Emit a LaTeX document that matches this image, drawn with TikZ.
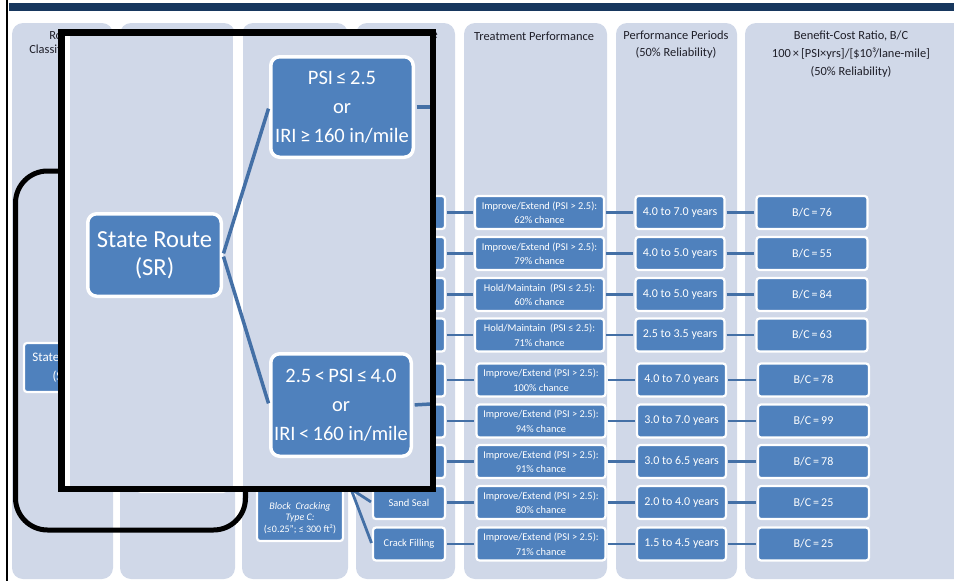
\documentclass[tikz,border=0pt]{standalone}
\usepackage{fontspec}
\setmainfont{Carlito}
\definecolor{panelc}{RGB}{208,216,232}
\definecolor{boxc}{RGB}{79,129,189}
\definecolor{linec}{RGB}{68,112,166}
\definecolor{navy}{RGB}{23,55,94}
\definecolor{headc}{RGB}{30,30,40}
\newcommand\txtIE{Improve/Extend (PSI > 2.5):}
\newcommand\txtHM{Hold/Maintain\ \ (PSI ≤ 2.5):}
\begin{document}
\begin{tikzpicture}[x=1pt,y=-1pt,
  panel/.style={fill=panelc, rounded corners=11pt},
  cell/.style={rectangle, rounded corners=3pt, fill=boxc, draw=white, line width=2.2pt,
    text=white, align=center, inner sep=0pt, minimum height=33pt},
  tcell/.style={cell, minimum width=129pt, font=\fontsize{10.4}{14.5}\selectfont},
  pcell/.style={cell, minimum width=89pt, font=\fontsize{12}{14}\selectfont},
  bcell/.style={cell, minimum width=111pt, font=\fontsize{12}{14}\selectfont},
  dcell/.style={cell, minimum width=72pt, font=\fontsize{10.5}{13}\selectfont},
  link/.style={draw=linec, line width=2.8pt, shorten <=1.1pt, shorten >=1.1pt},
  head/.style={text=headc, align=center, inner sep=0pt},
  big/.style={rectangle, rounded corners=9pt, fill=boxc, draw=white, line width=3.5pt,
    text=white, align=center, inner sep=0pt},
  blink/.style={draw=linec, line width=3.5pt, shorten <=1.7pt, shorten >=1.7pt},
]
\useasboundingbox (0,0) rectangle (954,581);
\clip (0,0) rectangle (954,581);

% page rule and title bar
\fill[navy] (9,3) rectangle (960,11);
\draw[black, line width=2.4pt] (7.2,-2) -- (7.2,590);

% column panels
\fill[panel] (12,23) rectangle (113,579);
\fill[panel] (120,23) rectangle (235,579);
\fill[panel] (242,23) rectangle (348,579);
\fill[panel] (356,23) rectangle (455,579);
\fill[panel] (464,23) rectangle (607,579);
\fill[panel] (616,23) rectangle (737,579);
\fill[panel] (745,23) rectangle (980,579);

% column headings
\node[head, font=\fontsize{12.4}{14}\selectfont] (h1) at (62,42) {Road\\Classification};
\node[head, font=\fontsize{12.4}{14}\selectfont, anchor=east] (h4) at (438,36) {Treatment Type};
\node[head, font=\fontsize{12.4}{14}\selectfont] (h5) at (534,36) {Treatment Performance};
\node[head, font=\fontsize{12.4}{17}\selectfont] (h6) at (676,44.5) {Performance Periods\\(50\% Reliability)};
\node[head, font=\fontsize{12.4}{18}\selectfont] (h7) at (851,54)
  {Benefit-Cost Ratio, B/C\\100\,×\,[PSI×yrs]/[\$10³/lane-mile]\\(50\% Reliability)};

% road class and condition boxes
\node[cell, minimum width=78pt, minimum height=49pt, font=\fontsize{13}{19}\selectfont]
  (sr) at (63,367.5) {State Route\\(SR)};
\node[cell, minimum width=88pt, minimum height=60pt] (cond) at (182,462) {};

% distress box
\node[cell, minimum width=86pt, minimum height=108pt] (blk) at (300,487) {};
\node[text=white, align=center, inner sep=0pt, font=\fontsize{10}{11.5}\selectfont]
  (blktxt) at (300,518) {\textit{Block\ \ Cracking}\\\textit{Type C:}\\(≤0.25"; ≤ 300 ft²)};

% treatment rows
\foreach \i/\y/\dx/\dt/\tr/\pct/\yr/\bcv in {
  1/212.5/0/{}/\txtIE/62/{4.0 to 7.0}/76,
  2/253.5/0/{}/\txtIE/79/{4.0 to 5.0}/55,
  3/294.5/0/{}/\txtHM/60/{4.0 to 5.0}/84,
  4/335/0/{}/\txtHM/71/{2.5 to 3.5}/63,
  5/380/1.5/{}/\txtIE/100/{4.0 to 7.0}/78,
  6/421/1.5/{}/\txtIE/94/{3.0 to 7.0}/99,
  7/461.5/1.5/{}/\txtIE/91/{3.0 to 6.5}/78,
  8/502.5/1.5/{Sand Seal}/\txtIE/80/{2.0 to 4.0}/25,
  9/544/1.5/{Crack Filling}/\txtIE/71/{1.5 to 4.5}/25}{
  \node[dcell] (d\i) at (409,\y) {\dt};
  \node[tcell] (t\i) at (539.5+\dx,\y) {\tr\\\pct\% chance};
  \node[pcell] (p\i) at (680+\dx,\y) {\yr\ years};
  \node[bcell] (b\i) at (812+\dx,\y) {B/C\,=\,\bcv};
  \draw[link] (d\i.east) -- (t\i.west);
  \draw[link] (t\i.east) -- (p\i.west);
  \draw[link] (p\i.east) -- (b\i.west);
}

% fan from the distress box to its treatments
\coordinate (fork) at (351,489);
\draw[link, shorten <=0pt] (fork) -- (d8.west);
\draw[link, shorten <=0pt] (fork) -- (d9.west);

% rounded call-out frame
\draw[black, line width=5pt, rounded corners=32pt] (15.5,171) rectangle (245.5,530);

% enlarged detail window
\fill[white] (61.25,32.25) rectangle (432.75,488.75);
\fill[panelc] (70,35) rectangle (233,486);
\fill[panelc] (243,35) rectangle (430,486);
\node[big, minimum width=133.5pt, minimum height=82.5pt, font=\fontsize{24.5}{28}\selectfont]
  (zsr) at (154.5,255) {State Route\\(SR)};
\node[big, minimum width=142.5pt, minimum height=100.5pt, font=\fontsize{20.5}{29}\selectfont]
  (zhi) at (342,107) {PSI\,≤\,2.5\\or\\IRI\,≥\,160 in/mile};
\node[big, minimum width=140.5pt, minimum height=102.5pt, font=\fontsize{20.5}{29}\selectfont]
  (zlo) at (341,405) {2.5\,<\,PSI\,≤\,4.0\\or\\IRI\,<\,160 in/mile};
\draw[blink] (zsr.east) -- (zhi.west);
\draw[blink] (zsr.east) -- (zlo.west);
\coordinate (zout1) at (431,107);
\coordinate (zout2) at (431,404);
\draw[blink, shorten >=0pt] (zhi.east) -- (zout1);
\draw[blink, shorten >=0pt] (zlo.east) -- (zout2);
\draw[black, line width=6.5pt] (61.25,32.25) rectangle (432.75,488.75);
\end{tikzpicture}
\end{document}
